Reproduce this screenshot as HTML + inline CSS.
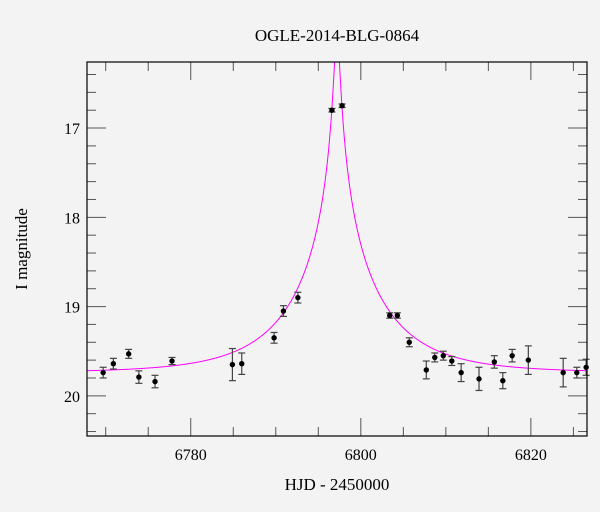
<!DOCTYPE html>
<html><head><meta charset="utf-8"><style>
body{margin:0;background:#f3f3f3;}
svg{display:block;font-family:"Liberation Serif",serif;}
</style></head><body>
<svg id="chart" width="600" height="512">
<defs><clipPath id="plotclip"><rect x="87" y="62" width="500" height="374"/></clipPath></defs>
<rect width="600" height="512" fill="#f3f3f3"/>
<text x="337" y="41" font-size="17" text-anchor="middle">OGLE-2014-BLG-0864</text>
<text x="337" y="490" font-size="17" text-anchor="middle">HJD - 2450000</text>
<text transform="translate(27,249) rotate(-90)" font-size="17" text-anchor="middle">I magnitude</text>
<g id="axes"></g>
<g id="model" clip-path="url(#plotclip)"></g>
<g id="points"></g>
<rect x="87" y="62" width="500" height="374" fill="none" stroke="#000" stroke-width="1.2"/>
</svg>
<script>
const times=[6769.7,6770.9,6772.7,6773.9,6775.8,6777.8,6784.9,6786.0,6789.8,6790.9,6792.6,6796.6,6797.8,6803.4,6804.3,6805.7,6807.7,6808.7,6809.7,6810.7,6811.8,6813.9,6815.7,6816.7,6817.8,6819.7,6823.8,6825.4,6826.5];
const mags=[19.74,19.64,19.53,19.79,19.84,19.61,19.65,19.64,19.35,19.05,18.90,16.80,16.75,19.10,19.10,19.40,19.71,19.57,19.55,19.61,19.74,19.81,19.62,19.83,19.55,19.60,19.74,19.74,19.68];
const errs=[0.06,0.06,0.05,0.07,0.07,0.04,0.18,0.12,0.06,0.06,0.06,0.02,0.02,0.03,0.03,0.05,0.1,0.05,0.05,0.05,0.1,0.13,0.07,0.09,0.07,0.16,0.16,0.06,0.09];
const modelParams=[6797.2,10.3,0.03,19.74]; // t0, tE, u0, baseline
const xTickLabels=[6780,6800,6820];
const yTickLabels=[17,18,19,20];
const X0=87,X1=587,Y0=62,Y1=436,XMIN=6767.8,XMAX=6826.6,YMIN=16.26,YMAX=20.45;
const xs=v=>X0+(v-XMIN)/(XMAX-XMIN)*(X1-X0);
const ys=v=>Y0+(v-YMIN)/(YMAX-YMIN)*(Y1-Y0);
const NS="http://www.w3.org/2000/svg";
function mk(tag,attrs,parent){const e=document.createElementNS(NS,tag);for(const k in attrs)e.setAttribute(k,attrs[k]);parent.appendChild(e);return e;}
const axes=document.getElementById('axes');
for(let t=6770;t<=6825;t+=5){
  const major=xTickLabels.includes(t);const L=major?18:9;const x=xs(t);
  let a=mk('line',{x1:x,x2:x,y1:Y1,y2:Y1-L,stroke:'#555','stroke-width':1},axes);
  
  
  let b=mk('line',{x1:x,x2:x,y1:Y0,y2:Y0+L,stroke:'#555','stroke-width':1},axes);
  
  
}
xTickLabels.forEach(t=>{const e=mk('text',{x:xs(t),y:460,'font-size':16,'text-anchor':'middle'},axes);e.textContent=t;
  
  });
for(let i=0;i<=20;i++){
  const m=16.4+i*0.2;if(m>YMAX)break;const y=ys(m);const major=Math.abs(m-Math.round(m))<1e-6;const L=major?19:9;
  let a=mk('line',{x1:X0,x2:X0+L,y1:y,y2:y,stroke:'#555','stroke-width':1},axes);
  
  
  let b=mk('line',{x1:X1,x2:X1-L,y1:y,y2:y,stroke:'#555','stroke-width':1},axes);
  
  
}
yTickLabels.forEach(m=>{const e=mk('text',{x:80,y:ys(m)+6,'font-size':16,'text-anchor':'end'},axes);e.textContent=m;
  
  });
const [t0,tE,u0,base]=modelParams;let d='';
for(let px=X0;px<=X1;px+=0.25){const t=XMIN+(px-X0)/(X1-X0)*(XMAX-XMIN);const u=Math.sqrt(u0*u0+((t-t0)/tE)**2);
  const A=(u*u+2)/(u*Math.sqrt(u*u+4));let m=base-2.5*Math.log10(A);let y=Math.max(ys(m),Y0-5);d+=(d?'L':'M')+px.toFixed(2)+','+y.toFixed(2);}
const mp=mk('path',{d:d,fill:'none',stroke:'#ff00ff','stroke-width':1},document.getElementById('model'));


const pg=document.getElementById('points');
times.forEach((t,i)=>{const x=xs(t),y=ys(mags[i]),y1=ys(mags[i]-errs[i]),y2=ys(mags[i]+errs[i]);
  const g=mk('g',{},pg);
  
  
  mk('line',{x1:x,x2:x,y1:y1,y2:y2,stroke:'#444','stroke-width':1.2},g);
  mk('line',{x1:x-3.5,x2:x+3.5,y1:y1,y2:y1,stroke:'#444','stroke-width':1.2},g);
  mk('line',{x1:x-3.5,x2:x+3.5,y1:y2,y2:y2,stroke:'#444','stroke-width':1.2},g);
  mk('circle',{cx:x,cy:y,r:2.7,fill:'#000'},g);});
</script>
</body></html>
